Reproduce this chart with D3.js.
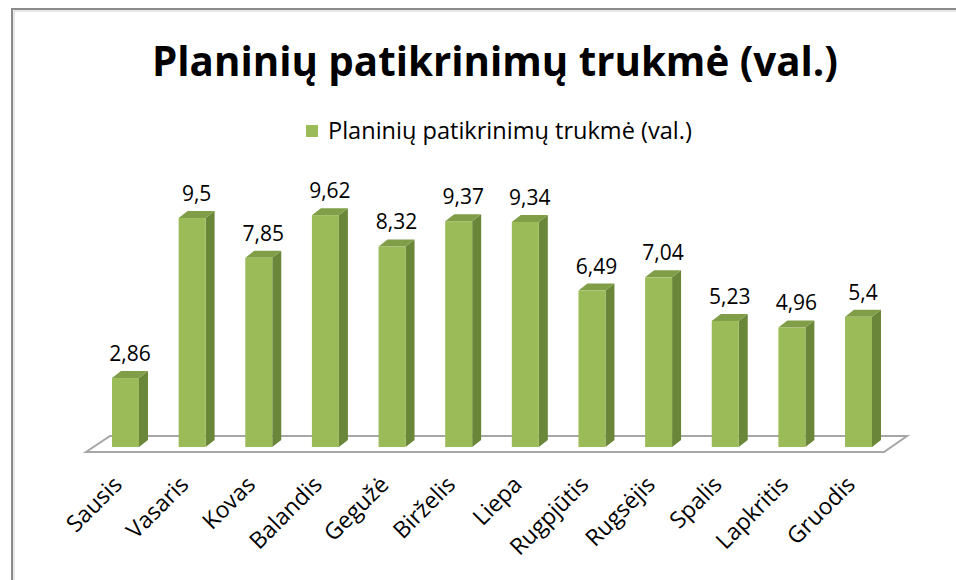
<!DOCTYPE html>
<meta charset="utf-8"/>
<style>
  body { margin: 0; background: #fff; }
  text { font-family: "Open Sans", sans-serif; fill: #000; }
</style>
<svg width="956" height="580"></svg>
<script src="https://d3js.org/d3.v7.min.js"></script>
<script>

  // data
  var months = ["Sausis", "Vasaris", "Kovas", "Balandis", "Gegužė", "Birželis",
                "Liepa", "Rugpjūtis", "Rugsėjis", "Spalis", "Lapkritis", "Gruodis"];
  var hours = [2.86, 9.5, 7.85, 9.62, 8.32, 9.37, 9.34, 6.49, 7.04, 5.23, 4.96, 5.4];
  var valueLabels = ["2,86", "9,5", "7,85", "9,62", "8,32", "9,37", "9,34", "6,49", "7,04", "5,23", "4,96", "5,4"];
  var title = "Planinių patikrinimų trukmė (val.)";
  var seriesName = "Planinių patikrinimų trukmė (val.)";

  var svg = d3.select("svg");

  var x = d3.scaleBand()
    .domain(months)
    .range([92, 892])
    .paddingInner(0.595)
    .paddingOuter(0.3);

  var y = d3.scaleLinear()
    .domain([0, 10])
    .range([447, 206]);

  var dx = 9, dy = -7;   // depth of the 3d columns

  // shrink/grow font so the text is as wide as in the picture
  function fitWidth(sel, target) {
    var fs = parseFloat(sel.style("font-size"));
    var len = sel.node().getComputedTextLength();
    sel.style("font-size", (fs * target / len).toFixed(2) + "px");
  }

  // frame (only top and left edges show in the crop)
  svg.append("path")
    .attr("d", "M12,580 L12,9 L956,9")
    .attr("fill", "none")
    .attr("stroke", "#8a8a8a")
    .attr("stroke-width", 2);
  svg.append("path")
    .attr("d", "M14,580 L14,11 L956,11")
    .attr("fill", "none")
    .attr("stroke", "#cfcfcf")
    .attr("stroke-width", 1);

  // title
  var titleText = svg.append("text")
    .attr("x", 495)
    .attr("y", 76)
    .attr("text-anchor", "middle")
    .style("font-size", "40px")
    .style("font-weight", "bold")
    .text(title);
  fitWidth(titleText, 686);

  // legend
  svg.append("rect")
    .attr("x", 306).attr("y", 125)
    .attr("width", 12).attr("height", 12)
    .attr("fill", "#9bbb59");
  var legendText = svg.append("text")
    .attr("x", 328).attr("y", 139)
    .style("font-size", "20px")
    .text(seriesName);
  fitWidth(legendText, 364);

  // floor
  svg.append("polygon")
    .attr("points", "86,452 884,452 907,436 110,436")
    .attr("fill", "#fff")
    .attr("stroke", "#a6a6a6")
    .attr("stroke-width", 2);

  var w = x.bandwidth();
  var bars = svg.append("g").selectAll("g")
    .data(hours)
    .enter().append("g");

  // side face
  bars.append("polygon")
    .attr("fill", "#6a8639")
    .attr("points", function (d, i) {
      var x0 = x(months[i]) + w, y0 = y(0), y1 = y(d);
      return [[x0, y0], [x0 + dx, y0 + dy], [x0 + dx, y1 + dy], [x0, y1]].join(" ");
    });

  // top face
  bars.append("polygon")
    .attr("fill", "#7f9e47")
    .attr("points", function (d, i) {
      var x0 = x(months[i]), y1 = y(d);
      return [[x0, y1], [x0 + dx, y1 + dy], [x0 + w + dx, y1 + dy], [x0 + w, y1]].join(" ");
    });

  // front face
  bars.append("rect")
    .attr("fill", "#9bbb59")
    .attr("x", function (d, i) { return x(months[i]); })
    .attr("y", function (d) { return y(d); })
    .attr("width", w)
    .attr("height", function (d) { return y(0) - y(d); });

  // value labels
  bars.append("text")
    .attr("x", function (d, i) { return x(months[i]) + (w + dx) / 2; })
    .attr("y", function (d) { return y(d) + dy - 10; })
    .attr("text-anchor", "middle")
    .style("font-size", "21px")
    .text(function (d, i) { return valueLabels[i]; });

  // category labels
  svg.append("g").selectAll("text")
    .data(months)
    .enter().append("text")
    .attr("text-anchor", "end")
    .attr("transform", function (d) {
      return "translate(" + (x(d) + w / 2 - 2) + ",486) rotate(-45)";
    })
    .style("font-size", "23px")
    .text(function (d) { return d; });

</script>
